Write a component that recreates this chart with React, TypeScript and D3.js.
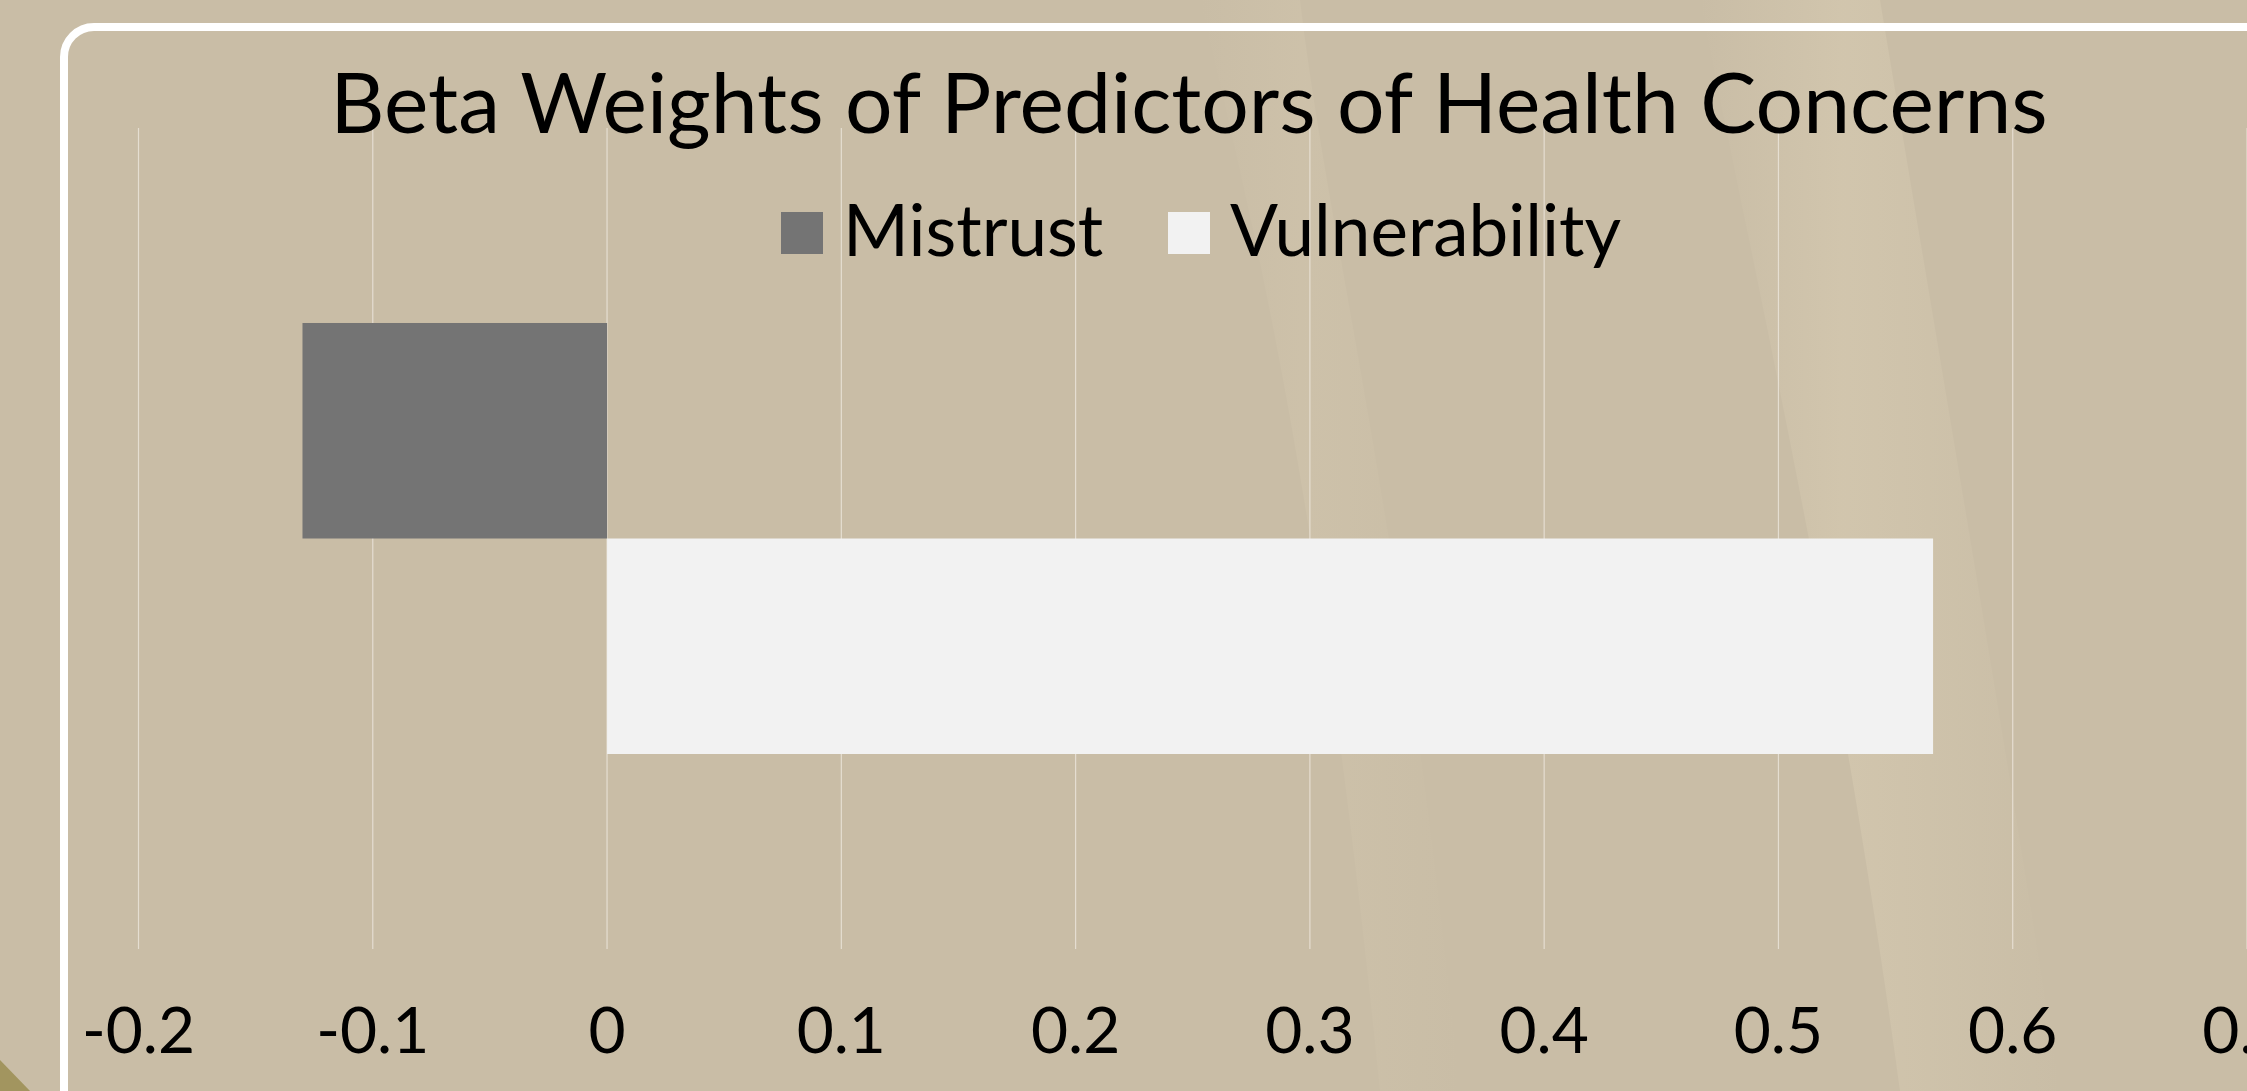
import * as d3 from 'd3';
import { useEffect, useRef } from 'react';

// chart data
const title = 'Beta Weights of Predictors of Health Concerns';
const categories = ['Health Concerns'];
const seriesNames = ['Mistrust', 'Vulnerability'];
const seriesValues = [-0.13, 0.566];
const seriesColors = ['#747474', '#f2f2f2'];
const tickValues = [-0.2, -0.1, 0, 0.1, 0.2, 0.3, 0.4, 0.5, 0.6, 0.7];

const W = 2247;
const H = 1091;
const FONT = 'Lato, "Noto Sans", sans-serif';

const App: React.FC = () => {
  const ref = useRef<SVGSVGElement | null>(null);

  useEffect(() => {
    if (!ref.current) return;
    document.body.style.margin = '0';
    const svg = d3.select(ref.current);
    svg.selectAll('*').remove();

    // background
    const defs = svg.append('defs');
    const grad = defs.append('linearGradient')
      .attr('id', 'swoosh').attr('x1', '0').attr('y1', '0').attr('x2', '1').attr('y2', '0');
    grad.append('stop').attr('offset', '0%').attr('stop-color', '#d6cab1').attr('stop-opacity', 0);
    grad.append('stop').attr('offset', '40%').attr('stop-color', '#d6cab1').attr('stop-opacity', 0.9);
    grad.append('stop').attr('offset', '100%').attr('stop-color', '#d6cab1').attr('stop-opacity', 0);

    svg.append('rect').attr('width', W).attr('height', H).attr('fill', '#c9bda6');
    svg.append('path')
      .attr('d', 'M1700,0 C1760,300 1840,650 1900,1091 L2060,1091 C1990,650 1930,300 1880,0 Z')
      .attr('fill', 'url(#swoosh)')
      .attr('opacity', 0.7);
    svg.append('path')
      .attr('d', 'M1200,0 C1260,250 1320,500 1380,1091 L1460,1091 C1400,500 1330,250 1300,0 Z')
      .attr('fill', 'url(#swoosh)')
      .attr('opacity', 0.35);
    svg.append('path')
      .attr('d', 'M0,1060 L30,1091 L0,1091 Z')
      .attr('fill', '#a2955f');

    // frame
    svg.append('rect')
      .attr('x', 64).attr('y', 27)
      .attr('width', 2400).attr('height', 1300)
      .attr('rx', 30).attr('ry', 30)
      .attr('fill', 'none')
      .attr('stroke', '#ffffff')
      .attr('stroke-width', 8);

    const top = 128;
    const bottom = 949;
    const x = d3.scaleLinear().domain([-0.2, 0.7]).range([138.5, W]);
    const yCat = d3.scaleBand<string>().domain(categories).range([top, bottom]).paddingOuter(0.4524).paddingInner(0);
    const ySer = d3.scaleBand<string>().domain(seriesNames).range([0, yCat.bandwidth()]);

    // gridlines
    svg.append('g').selectAll('line')
      .data(tickValues)
      .enter().append('line')
      .attr('x1', d => x(d)).attr('x2', d => x(d))
      .attr('y1', top).attr('y2', bottom)
      .attr('stroke', '#ece6dc')
      .attr('stroke-opacity', 0.8)
      .attr('stroke-width', 1.2);

    // bars
    const bars = seriesNames.map((name, i) => ({ name, value: seriesValues[i], color: seriesColors[i] }));
    svg.append('g').selectAll('rect')
      .data(bars)
      .enter().append('rect')
      .attr('x', d => x(Math.min(0, d.value)))
      .attr('width', d => Math.abs(x(d.value) - x(0)))
      .attr('y', d => (yCat(categories[0]) ?? 0) + (ySer(d.name) ?? 0))
      .attr('height', ySer.bandwidth())
      .attr('fill', d => d.color);

    // tick labels
    svg.append('g').selectAll('text')
      .data(tickValues)
      .enter().append('text')
      .attr('x', d => x(d))
      .attr('y', 1053)
      .attr('text-anchor', 'middle')
      .style('font-family', FONT)
      .style('font-size', '64px')
      .attr('fill', '#000')
      .text(d => String(d));

    // title
    svg.append('text')
      .attr('x', 1189).attr('y', 133)
      .attr('text-anchor', 'middle')
      .style('font-family', FONT)
      .style('font-size', '84px')
      .attr('fill', '#000')
      .text(title);

    // legend
    const legendX = [781, 1168];
    const lg = svg.append('g').selectAll('g')
      .data(bars)
      .enter().append('g')
      .attr('transform', (_d, i) => `translate(${legendX[i]},212)`);
    lg.append('rect').attr('width', 42).attr('height', 42).attr('fill', d => d.color);
    lg.append('text')
      .attr('x', 62).attr('y', 44)
      .style('font-family', FONT)
      .style('font-size', '71px')
      .attr('fill', '#000')
      .text(d => d.name);
  }, []);

  return (
    <svg ref={ref} width={W} height={H} style={{ position: 'absolute', left: 0, top: 0, display: 'block' }} />
  );
};

export default App;
